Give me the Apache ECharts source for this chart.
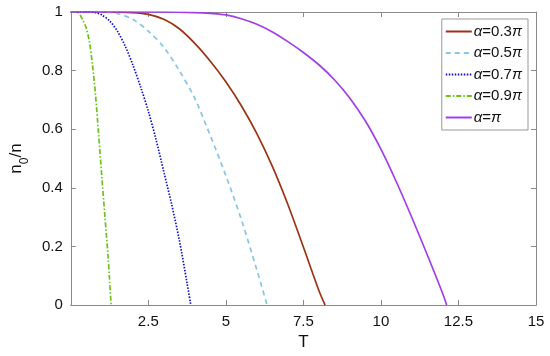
<!DOCTYPE html>
<html>
<head>
<meta charset="utf-8">
<script src="https://cdn.jsdelivr.net/npm/echarts@6/dist/echarts.min.js"></script>
<style>html,body{margin:0;padding:0;background:#fff}#c{width:550px;height:356px}</style>
</head>
<body>
<div id="c"></div>
<script>
// Legend labels
const seriesNames = ['α=0.3π', 'α=0.5π', 'α=0.7π', 'α=0.9π', 'α=π'];
// x tick labels
const xTicks = [0, 2.5, 5, 7.5, 10, 12.5, 15];
const yTicks = [0, 0.2, 0.4, 0.6, 0.8, 1];

// alpha = 0.3 pi
const T_a03 = [0, 1, 2, 2.5, 3, 3.5, 4, 4.5, 5, 5.5, 6, 6.5, 7, 7.5, 8, 8.2];
const n_a03 = [1, 1, 0.998, 0.992, 0.975, 0.943, 0.893, 0.832, 0.762, 0.68, 0.585, 0.473, 0.343, 0.198, 0.05, 0];
// alpha = 0.5 pi
const T_a05 = [0, 1, 1.5, 2, 2.5, 3, 3.5, 4, 4.5, 5, 5.5, 6, 6.33];
const n_a05 = [1, 1, 0.995, 0.975, 0.935, 0.88, 0.8, 0.705, 0.578, 0.442, 0.292, 0.12, 0];
// alpha = 0.7 pi
const T_a07 = [0, 0.5, 0.8, 1, 1.25, 1.5, 1.75, 2, 2.25, 2.5, 2.75, 3, 3.25, 3.5, 3.75, 3.87];
const n_a07 = [1, 1, 0.998, 0.99, 0.97, 0.935, 0.885, 0.82, 0.745, 0.662, 0.565, 0.455, 0.345, 0.222, 0.075, 0];
// alpha = 0.9 pi
const T_a09 = [0, 0.2, 0.3, 0.4, 0.5, 0.6, 0.7, 0.8, 0.9, 1.0, 1.1, 1.2, 1.25, 1.3];
const n_a09 = [1, 1, 0.99, 0.97, 0.945, 0.9, 0.82, 0.715, 0.58, 0.44, 0.305, 0.17, 0.09, 0];
// alpha = pi
const T_a10 = [0, 2, 3, 4, 4.5, 5, 5.5, 6, 6.5, 7, 7.5, 8, 8.5, 9, 9.5, 10, 10.5, 11, 11.5, 12, 12.12];
const n_a10 = [1, 1, 1, 0.998, 0.995, 0.99, 0.977, 0.958, 0.932, 0.899, 0.862, 0.82, 0.769, 0.706, 0.628, 0.532, 0.42, 0.298, 0.17, 0.037, 0];

const pairs = (xs, ys) => xs.map((x, i) => [x, ys[i]]);

const styles = [
  {color: '#9a3412', type: 'solid'},
  {color: '#86c5e6', type: [5, 4]},
  {color: '#1010c8', type: [1.5, 1.5]},
  {color: '#6cc21a', type: [5, 2, 1.5, 2]},
  {color: '#a33ee6', type: 'solid'}
];
const datas = [pairs(T_a03, n_a03), pairs(T_a05, n_a05), pairs(T_a07, n_a07), pairs(T_a09, n_a09), pairs(T_a10, n_a10)];

const axisGray = '#8a8a8a';
const font = 'Liberation Sans, Arial, sans-serif';

const chart = echarts.init(document.getElementById('c'), null, {renderer: 'canvas'});
chart.setOption({
  animation: false,
  backgroundColor: '#fff',
  grid: {left: 58.7, right: 14, top: 12, bottom: 44.3, containLabel: false},
  legend: {
    orient: 'vertical',
    right: 22, top: 19,
    data: seriesNames,
    backgroundColor: '#fff',
    borderColor: '#999', borderWidth: 1,
    padding: [5, 6, 5, 3],
    itemWidth: 26, itemHeight: 14, itemGap: 6.5,
    itemStyle: {opacity: 0},
    textStyle: {fontFamily: font, fontSize: 15, color: '#111', padding: [0, 0, 0, -3],
      rich: {i: {fontFamily: font, fontSize: 15, fontStyle: 'italic', color: '#111'}}},
    formatter: function (name) {
      return name.replace(/α/g, '{i|α}').replace(/π/g, '{i|π}');
    }
  },
  xAxis: [{
    type: 'value', min: 0, max: 15, interval: 2.5,
    name: 'T', nameLocation: 'middle', nameGap: 27,
    nameTextStyle: {fontFamily: font, fontSize: 17, color: '#111'},
    axisLine: {show: true, onZero: false, lineStyle: {color: axisGray, width: 1}},
    axisTick: {show: true, inside: true, length: 5, lineStyle: {color: axisGray}},
    axisLabel: {fontFamily: font, fontSize: 15, color: '#111', margin: 9,
      formatter: v => (v === 0 ? '' : String(v))},
    splitLine: {show: false}
  }, {
    type: 'value', min: 0, max: 15, interval: 2.5, position: 'top',
    axisLine: {show: true, onZero: false, lineStyle: {color: axisGray, width: 1}},
    axisTick: {show: true, inside: true, length: 5, lineStyle: {color: axisGray}},
    axisLabel: {show: false}, splitLine: {show: false}
  }],
  yAxis: [{
    type: 'value', min: 0, max: 1, interval: 0.2,
    name: '{n|n}{s|0}{n|/n}', nameLocation: 'middle', nameGap: 36, nameRotate: 90,
    nameTextStyle: {rich: {
      n: {fontFamily: font, fontSize: 17, color: '#111'},
      s: {fontFamily: font, fontSize: 12, color: '#111', verticalAlign: 'bottom', padding: [0, 0, -6, 0]}
    }},
    axisLine: {show: true, onZero: false, lineStyle: {color: axisGray, width: 1}},
    axisTick: {show: true, inside: true, length: 5, lineStyle: {color: axisGray}},
    axisLabel: {fontFamily: font, fontSize: 15, color: '#111', margin: 8,
      formatter: v => String(Math.round(v * 10) / 10)},
    splitLine: {show: false}
  }, {
    type: 'value', min: 0, max: 1, interval: 0.2, position: 'right',
    axisLine: {show: true, onZero: false, lineStyle: {color: axisGray, width: 1}},
    axisTick: {show: true, inside: true, length: 5, lineStyle: {color: axisGray}},
    axisLabel: {show: false}, splitLine: {show: false}
  }],
  series: seriesNames.map((name, i) => ({
    name: name,
    type: 'line',
    xAxisIndex: 0, yAxisIndex: 0,
    data: datas[i],
    symbol: 'none',
    smooth: 0.3,
    clip: true,
    lineStyle: {color: styles[i].color, width: 1.7, type: styles[i].type},
    itemStyle: {color: styles[i].color}
  }))
});
</script>
</body>
</html>
